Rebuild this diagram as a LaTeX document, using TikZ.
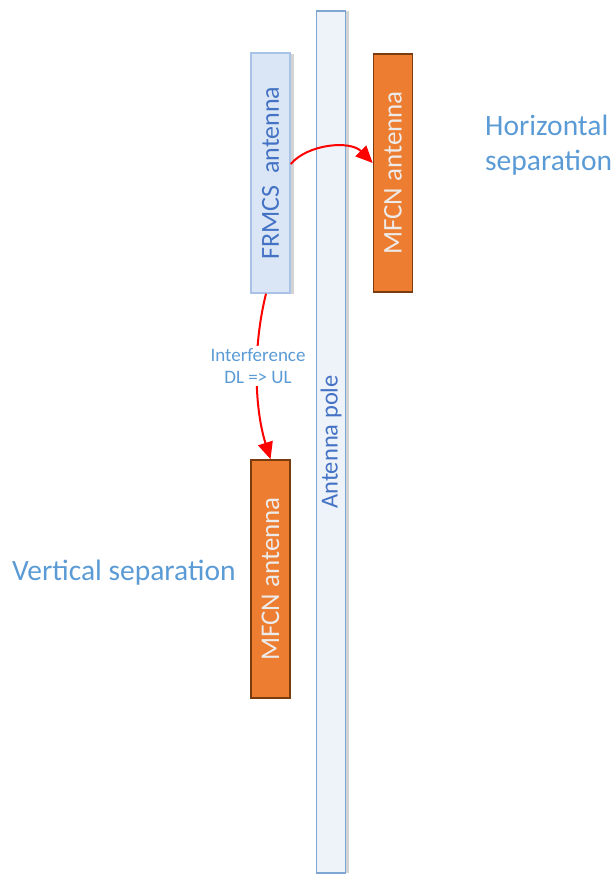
\documentclass[tikz,border=0pt]{standalone}
\usepackage{fontspec}
\setmainfont{Carlito}
\usetikzlibrary{shadows,arrows.meta}
\definecolor{poleFill}{HTML}{EEF3FA}
\definecolor{poleDraw}{HTML}{7EA6D3}
\definecolor{frmFill}{HTML}{DAE6F5}
\definecolor{frmDraw}{HTML}{A9C3E8}
\definecolor{txtBlue}{HTML}{4472C4}
\definecolor{lblBlue}{HTML}{5B9BD5}
\definecolor{mfcnFill}{HTML}{ED7D31}
\definecolor{mfcnDraw}{HTML}{7A3B0E}
\definecolor{mfcnTxt}{HTML}{EDEBEA}
\definecolor{arrRed}{HTML}{FF0000}
\tikzset{
  box/.style={draw, minimum height=#1, inner sep=0pt, rotate=90, anchor=center},
  pole/.style={box=29pt, minimum width=862pt, fill=poleFill, draw=poleDraw, line width=1.3pt,
    drop shadow={shadow xshift=3pt, shadow yshift=0pt, opacity=0.35, fill=gray}, text=txtBlue, font=\fontsize{24.5}{28}\selectfont},
  frmcs/.style={box=39pt, minimum width=240pt, fill=frmFill, draw=frmDraw, line width=1.4pt,
    drop shadow={shadow xshift=4pt, shadow yshift=-1pt, opacity=0.35, fill=gray}, text=txtBlue, font=\fontsize{26}{30}\selectfont},
  mfcn/.style={box=39pt, minimum width=238pt, fill=mfcnFill, draw=mfcnDraw, line width=1.6pt,
    text=mfcnTxt, font=\fontsize{27}{30}\selectfont},
  sep/.style={text=lblBlue, font=\fontsize{29.5}{35}\selectfont, inner sep=0pt, align=left},
  intf/.style={text=lblBlue, font=\fontsize{19}{22}\selectfont, fill=white, inner sep=2pt, align=center},
  redarrow/.style={draw=arrRed, line width=2pt, -{Triangle[length=17pt,width=15pt]}}
}
\begin{document}
\begin{tikzpicture}[x=1pt,y=-1pt]
\useasboundingbox (0,0) rectangle (612,877);
\node[pole] (pole) at (331,442) {Antenna pole};
\node[frmcs] (frm) at (270.5,173) {FRMCS\ \ antenna};
\node[mfcn] (mtop) at (393,173) {MFCN antenna};
\node[mfcn] (mbot) at (270.5,579) {MFCN antenna};
\node[sep, anchor=north west] (hsep) at (485,115) {Horizontal\\separation};
\node[sep, anchor=west] (vsep) at (12,573) {Vertical separation};
\draw[redarrow] ([yshift=9pt]frm.south) .. controls (308,144) and (350,140) .. ([yshift=10pt]mtop.north);
\draw[redarrow] ([xshift=-4.5pt]frm.west) .. controls (252,350) and (255,410) .. (mbot.east);
\node[intf] (intl) at (258,366) {Interference\\DL => UL};
\end{tikzpicture}
\end{document}
